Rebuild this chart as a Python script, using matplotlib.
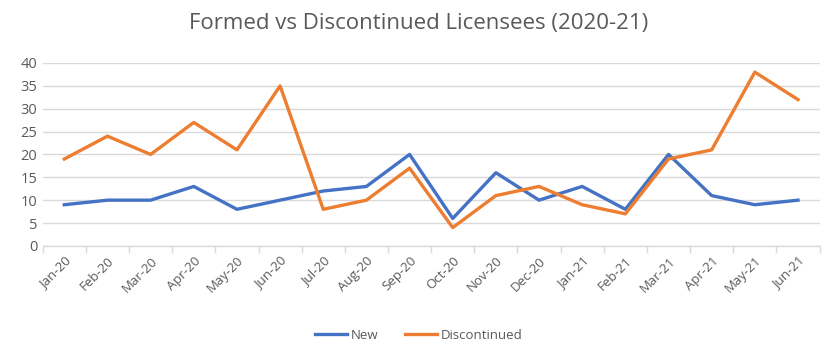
import matplotlib
matplotlib.use("Agg")
import matplotlib.pyplot as plt
from matplotlib.ticker import FixedLocator, MultipleLocator

months = ["Jan-20", "Feb-20", "Mar-20", "Apr-20", "May-20", "Jun-20", "Jul-20", "Aug-20",
          "Sep-20", "Oct-20", "Nov-20", "Dec-20", "Jan-21", "Feb-21", "Mar-21", "Apr-21",
          "May-21", "Jun-21"]
new = [9, 10, 10, 13, 8, 10, 12, 13, 20, 6, 16, 10, 13, 8, 20, 11, 9, 10]
discontinued = [19, 24, 20, 27, 21, 35, 8, 10, 17, 4, 11, 13, 9, 7, 19, 21, 38, 32]

plt.rcParams['font.family'] = ['Open Sans', 'DejaVu Sans']
text_color = "#595959"

fig = plt.figure(figsize=(8.38, 3.6), dpi=100)
ax = fig.add_axes([0.051, 0.317, 0.927, 0.508])

x = list(range(len(months)))
ax.plot(x, new, color="#4472C4", lw=2.4, label="New", solid_joinstyle="round")
ax.plot(x, discontinued, color="#ED7D31", lw=2.4, label="Discontinued", solid_joinstyle="round")

ax.set_xlim(-0.5, len(months) - 0.5)
ax.set_ylim(0, 40)
ax.yaxis.set_major_locator(MultipleLocator(5))
ax.grid(axis="y", color="#D9D9D9", lw=1)
ax.set_axisbelow(True)

for s in ["top", "right", "left"]:
    ax.spines[s].set_visible(False)
ax.spines["bottom"].set_color("#D9D9D9")
ax.spines["bottom"].set_linewidth(1)

ax.set_xticks(x)
ax.set_xticklabels(months, rotation=45, ha="right", rotation_mode="anchor",
                   fontsize=9.5, color=text_color)
ax.tick_params(axis="x", which="major", length=0, pad=6)
ax.xaxis.set_minor_locator(FixedLocator([i - 0.5 for i in range(len(months) + 1)]))
ax.tick_params(axis="x", which="minor", length=5, color="#D9D9D9", width=1)
ax.tick_params(axis="y", length=0, labelsize=10.5, labelcolor=text_color, pad=4)

fig.text(0.5, 0.935, "Formed vs Discontinued Licensees (2020-21)", ha="center", va="center",
         fontsize=16, color=text_color)

fig.legend(loc="center", bbox_to_anchor=(0.5, 0.068), ncol=2, frameon=False,
           fontsize=9.5, labelcolor=text_color, handlelength=2.4, columnspacing=2.0,
           handletextpad=0.3)

fig.savefig("out.png", dpi=100)
